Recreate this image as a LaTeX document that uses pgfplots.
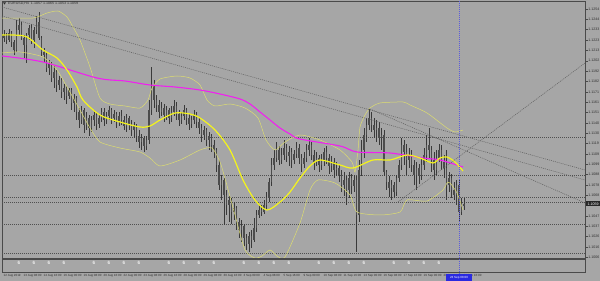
\documentclass[border=0pt]{standalone}
\usepackage{fontspec}
\setmainfont{Liberation Sans}
\usepackage{pgfplots}
\usepackage{pgfplotstable}
\pgfplotsset{compat=1.18}
\definecolor{bg}{HTML}{A6A6A6}
\definecolor{frame}{HTML}{4A4A4A}
\definecolor{candle}{HTML}{3A3A3A}
\definecolor{body}{HTML}{4C4C4C}
\definecolor{dotc}{HTML}{505050}
\definecolor{trend}{HTML}{5E5E5E}
\definecolor{mag}{HTML}{F020F0}
\definecolor{ylw}{HTML}{F4F41C}
\definecolor{band}{HTML}{DCDC70}
\definecolor{vline}{HTML}{5A5ADC}
\definecolor{lab}{HTML}{2E2E2E}
\definecolor{cross}{HTML}{2A2AE0}
\definecolor{daymk}{HTML}{F4F4F4}

\pgfplotstableread{
i o h l c
0 1.1225 1.1233 1.1221 1.1228
1 1.1228 1.1230 1.1219 1.1223
2 1.1223 1.1234 1.1221 1.1230
3 1.1230 1.1232 1.1216 1.1221
4 1.1221 1.1223 1.1208 1.1213
5 1.1213 1.1243 1.1211 1.1233
6 1.1233 1.1245 1.1228 1.1238
7 1.1238 1.1241 1.1223 1.1225
8 1.1225 1.1228 1.1205 1.1218
9 1.1218 1.1230 1.1200 1.1228
10 1.1228 1.1238 1.1223 1.1235
11 1.1235 1.1239 1.1219 1.1223
12 1.1223 1.1236 1.1215 1.1233
13 1.1233 1.1247 1.1229 1.1241
14 1.1241 1.1251 1.1223 1.1225
15 1.1225 1.1227 1.1207 1.1211
16 1.1211 1.1215 1.1201 1.1208
17 1.1208 1.1211 1.1191 1.1195
18 1.1195 1.1203 1.1188 1.1199
19 1.1199 1.1201 1.1181 1.1185
20 1.1185 1.1197 1.1175 1.1191
21 1.1191 1.1193 1.1171 1.1178
22 1.1178 1.1187 1.1173 1.1183
23 1.1183 1.1185 1.1165 1.1171
24 1.1171 1.1179 1.1163 1.1175
25 1.1175 1.1177 1.1159 1.1167
26 1.1167 1.1175 1.1164 1.1173
27 1.1173 1.1175 1.1153 1.1160
28 1.1160 1.1169 1.1151 1.1165
29 1.1165 1.1167 1.1143 1.1151
30 1.1151 1.1155 1.1135 1.1143
31 1.1143 1.1157 1.1139 1.1153
32 1.1153 1.1155 1.1130 1.1138
33 1.1138 1.1151 1.1133 1.1145
34 1.1145 1.1148 1.1127 1.1135
35 1.1135 1.1147 1.1131 1.1143
36 1.1143 1.1153 1.1137 1.1148
37 1.1148 1.1151 1.1133 1.1139
38 1.1139 1.1149 1.1135 1.1145
39 1.1145 1.1155 1.1141 1.1151
40 1.1151 1.1155 1.1137 1.1143
41 1.1143 1.1151 1.1139 1.1147
42 1.1147 1.1157 1.1143 1.1153
43 1.1153 1.1155 1.1139 1.1145
44 1.1145 1.1153 1.1141 1.1149
45 1.1149 1.1151 1.1135 1.1141
46 1.1141 1.1151 1.1137 1.1147
47 1.1147 1.1153 1.1138 1.1143
48 1.1143 1.1147 1.1133 1.1137
49 1.1137 1.1149 1.1131 1.1145
50 1.1145 1.1147 1.1133 1.1139
51 1.1139 1.1143 1.1127 1.1133
52 1.1133 1.1141 1.1125 1.1137
53 1.1137 1.1139 1.1121 1.1127
54 1.1127 1.1133 1.1115 1.1121
55 1.1121 1.1129 1.1113 1.1125
56 1.1125 1.1127 1.1111 1.1117
57 1.1117 1.1127 1.1113 1.1123
58 1.1123 1.1163 1.1119 1.1153
59 1.1153 1.1196 1.1148 1.1178
60 1.1178 1.1183 1.1155 1.1163
61 1.1163 1.1168 1.1151 1.1158
62 1.1158 1.1163 1.1145 1.1151
63 1.1151 1.1161 1.1147 1.1155
64 1.1155 1.1159 1.1141 1.1148
65 1.1148 1.1157 1.1143 1.1153
66 1.1153 1.1155 1.1139 1.1145
67 1.1145 1.1157 1.1141 1.1151
68 1.1151 1.1163 1.1147 1.1157
69 1.1157 1.1161 1.1143 1.1149
70 1.1149 1.1153 1.1137 1.1143
71 1.1143 1.1151 1.1139 1.1147
72 1.1147 1.1158 1.1143 1.1153
73 1.1153 1.1155 1.1138 1.1145
74 1.1145 1.1149 1.1133 1.1139
75 1.1139 1.1147 1.1135 1.1143
76 1.1143 1.1153 1.1139 1.1148
77 1.1148 1.1151 1.1135 1.1141
78 1.1141 1.1145 1.1129 1.1135
79 1.1135 1.1139 1.1121 1.1128
80 1.1128 1.1137 1.1123 1.1133
81 1.1133 1.1135 1.1117 1.1123
82 1.1123 1.1131 1.1113 1.1127
83 1.1127 1.1129 1.1111 1.1118
84 1.1118 1.1123 1.1105 1.1113
85 1.1113 1.1115 1.1091 1.1098
86 1.1098 1.1103 1.1073 1.1078
87 1.1078 1.1088 1.1063 1.1083
88 1.1083 1.1085 1.1038 1.1068
89 1.1068 1.1073 1.1048 1.1058
90 1.1058 1.1067 1.1041 1.1063
91 1.1063 1.1065 1.1039 1.1051
92 1.1051 1.1061 1.1043 1.1055
93 1.1055 1.1057 1.1033 1.1041
94 1.1041 1.1045 1.1025 1.1033
95 1.1033 1.1043 1.1021 1.1037
96 1.1037 1.1039 1.1017 1.1025
97 1.1025 1.1029 1.1013 1.1019
98 1.1019 1.1031 1.1011 1.1027
99 1.1027 1.1033 1.1015 1.1023
100 1.1023 1.1045 1.1021 1.1035
101 1.1035 1.1053 1.1031 1.1048
102 1.1048 1.1059 1.1045 1.1053
103 1.1053 1.1058 1.1047 1.1051
104 1.1051 1.1063 1.1049 1.1058
105 1.1058 1.1071 1.1053 1.1065
106 1.1065 1.1085 1.1061 1.1081
107 1.1081 1.1105 1.1077 1.1098
108 1.1098 1.1113 1.1093 1.1105
109 1.1105 1.1121 1.1101 1.1113
110 1.1113 1.1117 1.1098 1.1103
111 1.1103 1.1115 1.1099 1.1108
112 1.1108 1.1123 1.1103 1.1115
113 1.1115 1.1119 1.1101 1.1107
114 1.1107 1.1117 1.1097 1.1111
115 1.1111 1.1115 1.1095 1.1103
116 1.1103 1.1113 1.1099 1.1109
117 1.1109 1.1121 1.1105 1.1115
118 1.1115 1.1119 1.1099 1.1105
119 1.1105 1.1109 1.1091 1.1099
120 1.1099 1.1111 1.1095 1.1105
121 1.1105 1.1119 1.1101 1.1113
122 1.1113 1.1125 1.1107 1.1118
123 1.1118 1.1121 1.1103 1.1108
124 1.1108 1.1113 1.1093 1.1101
125 1.1101 1.1111 1.1097 1.1105
126 1.1105 1.1108 1.1091 1.1098
127 1.1098 1.1109 1.1093 1.1103
128 1.1103 1.1115 1.1097 1.1111
129 1.1111 1.1117 1.1099 1.1105
130 1.1105 1.1109 1.1089 1.1097
131 1.1097 1.1107 1.1091 1.1101
132 1.1101 1.1105 1.1085 1.1093
133 1.1093 1.1101 1.1087 1.1095
134 1.1095 1.1098 1.1081 1.1088
135 1.1088 1.1093 1.1071 1.1078
136 1.1078 1.1091 1.1067 1.1083
137 1.1083 1.1087 1.1058 1.1073
138 1.1073 1.1091 1.1065 1.1085
139 1.1085 1.1089 1.1069 1.1077
140 1.1077 1.1088 1.1071 1.1083
141 1.1083 1.1087 1.1011 1.1048
142 1.1048 1.1103 1.1041 1.1093
143 1.1093 1.1123 1.1087 1.1113
144 1.1113 1.1135 1.1105 1.1128
145 1.1128 1.1145 1.1121 1.1138
146 1.1138 1.1155 1.1133 1.1145
147 1.1145 1.1151 1.1131 1.1138
148 1.1138 1.1145 1.1125 1.1133
149 1.1133 1.1143 1.1121 1.1135
150 1.1135 1.1141 1.1118 1.1125
151 1.1125 1.1135 1.1113 1.1128
152 1.1128 1.1133 1.1087 1.1091
153 1.1091 1.1093 1.1073 1.1081
154 1.1081 1.1087 1.1066 1.1075
155 1.1075 1.1083 1.1063 1.1078
156 1.1078 1.1081 1.1065 1.1071
157 1.1071 1.1088 1.1067 1.1085
158 1.1085 1.1103 1.1081 1.1098
159 1.1098 1.1125 1.1093 1.1118
160 1.1118 1.1123 1.1098 1.1111
161 1.1111 1.1119 1.1088 1.1103
162 1.1103 1.1115 1.1095 1.1108
163 1.1108 1.1113 1.1091 1.1098
164 1.1098 1.1103 1.1078 1.1088
165 1.1088 1.1101 1.1073 1.1095
166 1.1095 1.1099 1.1079 1.1087
167 1.1087 1.1105 1.1083 1.1098
168 1.1098 1.1115 1.1093 1.1108
169 1.1108 1.1128 1.1101 1.1118
170 1.1118 1.1135 1.1105 1.1113
171 1.1113 1.1117 1.1091 1.1103
172 1.1103 1.1111 1.1083 1.1093
173 1.1093 1.1113 1.1088 1.1105
174 1.1105 1.1119 1.1101 1.1113
175 1.1113 1.1118 1.1093 1.1101
176 1.1101 1.1108 1.1085 1.1095
177 1.1095 1.1113 1.1063 1.1078
178 1.1078 1.1091 1.1071 1.1085
179 1.1085 1.1089 1.1065 1.1073
180 1.1073 1.1081 1.1063 1.1068
181 1.1068 1.1083 1.1058 1.1078
182 1.1078 1.1083 1.1041 1.1051
183 1.1051 1.1065 1.1048 1.1057
184 1.1057 1.1065 1.1053 1.1059
}\candles

\pgfplotstableread{
i lev
6 0.7
12 0.7
18 0.7
24 0.7
36 0.7
42 0.7
48 0.7
54 0.7
66 0.7
72 0.7
78 0.7
84 0.7
96 0.7
102 0.7
108 0.7
114 0.7
126 0.7
132 0.7
138 0.7
144 0.7
156 0.7
162 0.7
168 0.7
174 0.7
}\daymarks

\newcommand{\tinyfont}{\fontsize{3.6}{4}\selectfont}
\newcommand{\timefont}{\fontsize{3.0}{3.4}\selectfont}

\begin{document}
\begin{tikzpicture}[x=1pt,y=1pt]
\fill[bg] (0,0) rectangle (600,281);
\begin{axis}[
  at={(2pt,23pt)}, anchor=south west, scale only axis,
  width=583pt, height=257pt,
  xmin=-0.8, xmax=232.4, ymin=1.1005, ymax=1.1262,
  axis line style={draw=frame, line width=0.8pt},
  xtick=\empty,
  ytick={1.1254,1.124365,1.12333,1.122295,1.12126,1.120225,1.11919,1.118155,1.11712,1.116085,1.11505,1.114015,1.11298,1.111945,1.11091,1.109875,1.10884,1.107805,1.10677,1.1047,1.103665,1.10263,1.101595,1.10056},
  ytick pos=right, yticklabel pos=right,
  tick align=outside, major tick length=2.5pt,
  tick style={draw=frame, line width=0.4pt},
  yticklabel style={font=\tinyfont, text=lab, inner sep=0.6pt,
    /pgf/number format/.cd, fixed, fixed zerofill, precision=4, assume math mode=true},
]
% horizontal levels
\addplot[dotc, line width=0.5pt, dash pattern=on 1pt off 1pt] coordinates {(-0.8,1.1126) (232.4,1.1126)};
\addplot[dotc, line width=0.5pt, dash pattern=on 1pt off 1pt] coordinates {(-0.8,1.1088) (232.4,1.1088)};
\addplot[dotc, line width=0.5pt, dash pattern=on 1pt off 1pt] coordinates {(-0.8,1.1066) (232.4,1.1066)};
\addplot[dotc, line width=0.5pt, dash pattern=on 1pt off 1pt] coordinates {(-0.8,1.1061) (232.4,1.1061)};
\addplot[dotc, line width=0.5pt, dash pattern=on 1pt off 1pt] coordinates {(-0.8,1.1039) (232.4,1.1039)};
\addplot[dotc, line width=0.5pt, dash pattern=on 1pt off 1pt] coordinates {(-0.8,1.1010) (232.4,1.1010)};
% candles: wicks and bodies
\addplot[draw=none, mark=none, forget plot,
  error bars/.cd, y dir=both, y explicit, error mark=none,
  error bar style={draw=candle, line width=0.5pt}]
  table[x=i, y expr={(\thisrow{h}+\thisrow{l})/2}, y error expr={(\thisrow{h}-\thisrow{l})/2}] {\candles};
\addplot[draw=none, mark=none, forget plot,
  error bars/.cd, y dir=both, y explicit, error mark=none,
  error bar style={draw=body, line width=1.7pt}]
  table[x=i, y expr={(\thisrow{o}+\thisrow{c})/2}, y error expr={max(abs(\thisrow{o}-\thisrow{c})/2,0.00004)}] {\candles};
% Bollinger bands
\addplot[band, line width=0.5pt, smooth, tension=0.4] coordinates {
(-0.8,1.1245) (11.6,1.1245) (17.2,1.1250) (21.6,1.1252) (25.2,1.1246) (27.6,1.1236) (30.4,1.1223) (34.4,1.1196) (38.4,1.1165) (42.4,1.1159) (48.4,1.1157) (54.4,1.1155) (57.6,1.1163) (59.2,1.1175) (62.4,1.1184) (69.2,1.1187) (74.4,1.1185) (78.4,1.1178) (81.2,1.1163) (84.4,1.1157) (90.4,1.1159) (96.4,1.1155) (101.6,1.1145) (104.8,1.1123) (108.4,1.1113) (112.4,1.1121) (118.4,1.1128) (126.4,1.1123) (134.4,1.1113) (139.2,1.1101) (140.4,1.1091) (141.6,1.1113) (142.4,1.1136) (144.4,1.1148) (146.4,1.1155) (150.4,1.1160) (159.6,1.1161) (162.4,1.1158) (169.2,1.1150) (177.2,1.1135) (180.4,1.1131) (183.6,1.1133)};
\addplot[band, line width=0.5pt, smooth, tension=0.4] coordinates {
(-0.8,1.1210) (6.4,1.1211) (15.6,1.1206) (21.2,1.1193) (25.2,1.1176) (30.4,1.1153) (34.4,1.1135) (38.4,1.1121) (46.4,1.1115) (54.4,1.1111) (58.4,1.1105) (62.4,1.1097) (70.4,1.1103) (78.4,1.1113) (83.2,1.1115) (86.4,1.1101) (88.8,1.1081) (92.4,1.1048) (96.4,1.1013) (100.4,1.1005) (103.2,1.1007) (106.4,1.1013) (109.2,1.1007) (112.4,1.1006) (118.4,1.1040) (122.4,1.1073) (125.6,1.1083) (132.4,1.1080) (138.4,1.1068) (141.2,1.1051) (150.4,1.1048) (158.4,1.1051) (161.2,1.1063) (169.2,1.1062) (175.6,1.1073) (177.2,1.1080) (178.4,1.1080) (181.2,1.1070) (183.6,1.1053)};
% long MA
\addplot[mag, line width=1.1pt, smooth] coordinates {
(-0.8,1.1207) (15.6,1.1201) (37.2,1.1185) (48.4,1.1182) (58.4,1.1178) (68.4,1.1176) (78.4,1.1173) (86.4,1.1169) (94.4,1.1164) (98.4,1.1159) (102.4,1.1151) (106.4,1.1143) (110.4,1.1135) (114.4,1.1129) (118.4,1.1124) (134.4,1.1117) (141.2,1.1111) (154.4,1.1110) (167.6,1.1105) (174.4,1.1103) (183.6,1.1096)};
% middle MA
\addplot[ylw, line width=1.2pt, smooth, tension=0.5] coordinates {
(-0.8,1.1228) (3.6,1.1228) (9.2,1.1226) (15.6,1.1213) (21.2,1.1205) (25.2,1.1193) (29.2,1.1176) (31.6,1.1163) (38.4,1.1148) (46.4,1.1141) (54.4,1.1136) (58.4,1.1137) (62.4,1.1143) (68.4,1.1150) (74.4,1.1149) (78.4,1.1145) (84.4,1.1133) (90.4,1.1113) (95.6,1.1083) (100.4,1.1063) (105.2,1.1053) (110.4,1.1061) (114.4,1.1071) (118.4,1.1085) (122.4,1.1097) (126.4,1.1103) (134.4,1.1098) (139.6,1.1095) (147.6,1.1103) (154.4,1.1103) (161.2,1.1108) (166.4,1.1105) (171.6,1.1100) (174.4,1.1105) (177.2,1.1106) (180.4,1.1101) (183.6,1.1092)};
% trend lines
\addplot[trend, line width=0.5pt, dash pattern=on 1pt off 1pt] coordinates {(-0.8,1.1256) (232.4,1.1093)};
\addplot[trend, line width=0.5pt, dash pattern=on 1pt off 1pt] coordinates {(-0.8,1.1247) (232.4,1.1083)};
\addplot[trend, line width=0.5pt, dash pattern=on 1pt off 1pt] coordinates {(146.4,1.1154) (232.4,1.1060)};
\addplot[trend, line width=0.5pt, dash pattern=on 1pt off 1pt] coordinates {(157.6,1.1061) (232.4,1.1200)};
\end{axis}
% indicator sub-window
\begin{axis}[
  at={(2pt,9pt)}, anchor=south west, scale only axis,
  width=583pt, height=13pt,
  xmin=-0.8, xmax=232.4, ymin=0, ymax=1,
  axis line style={draw=frame, line width=0.8pt},
  ytick=\empty,
  xtick={0,8,...,184},
  xticklabels={12 Aug 2019,13 Aug 08:00,14 Aug 16:00,16 Aug 00:00,19 Aug 08:00,20 Aug 16:00,22 Aug 00:00,23 Aug 08:00,26 Aug 16:00,28 Aug 00:00,29 Aug 08:00,30 Aug 16:00,3 Sep 00:00,4 Sep 08:00,5 Sep 16:00,9 Sep 00:00,10 Sep 08:00,11 Sep 16:00,13 Sep 00:00,16 Sep 08:00,17 Sep 16:00,19 Sep 00:00,20 Sep 08:00,23 Sep 16:00},
  xtick pos=bottom, tick align=outside, major tick length=1.5pt,
  tick style={draw=frame, line width=0.4pt},
  xticklabel style={anchor=north west, font=\timefont, text=lab, inner sep=0.4pt, xshift=-1pt},
  nodes near coords={6},
  every node near coord/.style={anchor=center, font=\fontsize{4.6}{4.8}\selectfont\bfseries, text=daymk, inner sep=0},
]
\addplot[draw=none, mark=*, mark size=0.01pt, mark options={draw=none, fill=none}] table[x=i, y=lev] {\daymarks};
\end{axis}
% crosshair vertical line and labels
\draw[vline, line width=0.5pt, dash pattern=on 1pt off 1pt] (459,7) -- (459,280);
\fill[cross] (446,0) rectangle (472,7.2);
\node[font=\timefont, text=white, inner sep=0] at (459,3.6) {23 Sep 08:00};
\fill[black!85] (585.5,74.5) rectangle (600,79.5);
\node[font=\tinyfont, text=white, inner sep=0, anchor=west] at (587.5,77) {1.1059};
% header
\fill[lab] (3,278.6) -- (6,278.6) -- (4.5,276.4) -- cycle;
\node[font=\tinyfont, text=lab, inner sep=0, anchor=west] at (8,277.6) {EURUSD,H4\ \ 1.1057 1.1065 1.1053 1.1059};
\pgfresetboundingbox
\path (0,0) rectangle (600,281);
\end{tikzpicture}
\end{document}
